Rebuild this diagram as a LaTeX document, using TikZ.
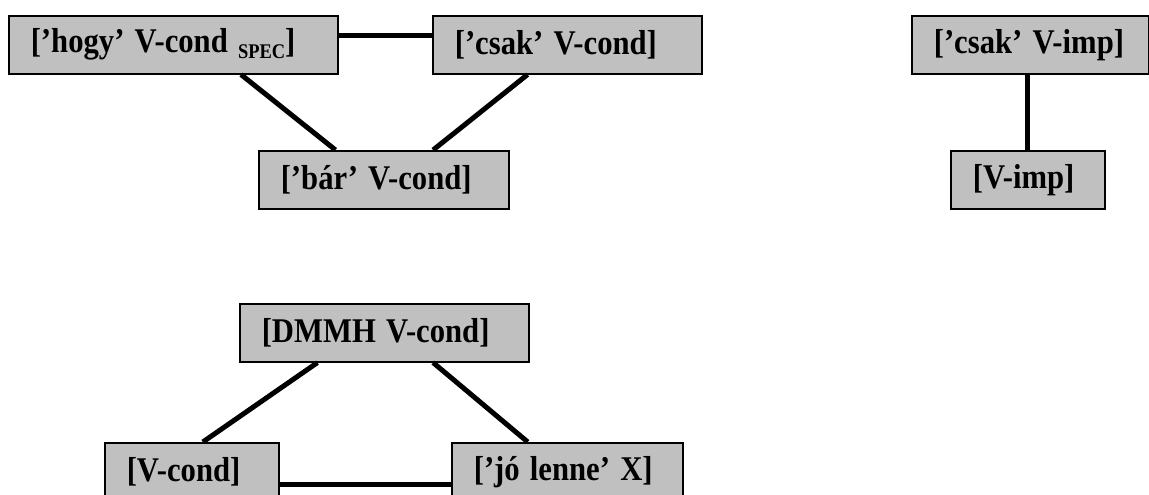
\documentclass[tikz,border=0pt]{standalone}
\usepackage{graphicx}
\usepackage{fontspec}
\setmainfont{Liberation Serif}
\usetikzlibrary{calc}
\definecolor{boxgray}{RGB}{192,192,192}
\newcommand{\tall}[1]{\scalebox{1}[1.13]{#1}}
\begin{document}
\begin{tikzpicture}[x=0.45pt,y=-0.45pt,font=\fontsize{13.8}{16}\selectfont\bfseries,
	box/.style={draw,fill=boxgray,line width=0.7pt,anchor=north west,align=left,inner xsep=9.9pt,inner ysep=0pt,minimum height=26.1pt},
	link/.style={line width=2.25pt}]
				\clip (0,0) rectangle (1149,494);
				% first group
				\node[box,text width=128.25pt] (hogy) at (8,15) {\tall{[’hogy’ V-cond {\fontsize{8.3}{9}\selectfont\raisebox{-2.2pt}{SPEC}}]}};
				\node[box,text width=101.25pt] (csak) at (432,15) {\tall{[’csak’ V-cond]}};
				\node[box,text width=92.7pt] (bar) at (258,150) {\tall{[’bár’ V-cond]}};
				\draw[link] ([yshift=4pt]hogy.east)--([yshift=4pt]csak.west);
				\draw[link] ($(hogy.south west)!.705!(hogy.south east)$)--($(bar.north west)!.308!(bar.north east)$);
				\draw[link] ($(csak.south west)!.353!(csak.south east)$)--($(bar.north west)!.696!(bar.north east)$);
				% second group
				\node[box,text width=86.85pt] (csakimp) at (911,15) {\tall{[’csak’ V-imp]}};
				\node[box,text width=49.5pt] (vimp) at (950,150) {\tall{[V-imp]}};
				\draw[link] (vimp.north)--(vimp.north |- csakimp.south);
				% third group
				\node[box,text width=110.25pt] (dmmh) at (239,303) {\tall{[DMMH V-cond]}};
				\node[box,text width=58.5pt] (vcond) at (104,442) {\tall{[V-cond]}};
				\node[box,text width=84.15pt] (jo) at (451,442) {\tall{[’jó lenne’ X]}};
				\draw[link] ($(dmmh.south west)!.27!(dmmh.south east)$)--($(vcond.north west)!.563!(vcond.north east)$);
				\draw[link] ($(dmmh.south west)!.668!(dmmh.south east)$)--($(jo.north west)!.33!(jo.north east)$);
				\draw[link] ([yshift=-5.85pt]vcond.east)--([yshift=-5.85pt]jo.west);
			\end{tikzpicture}
\end{document}
